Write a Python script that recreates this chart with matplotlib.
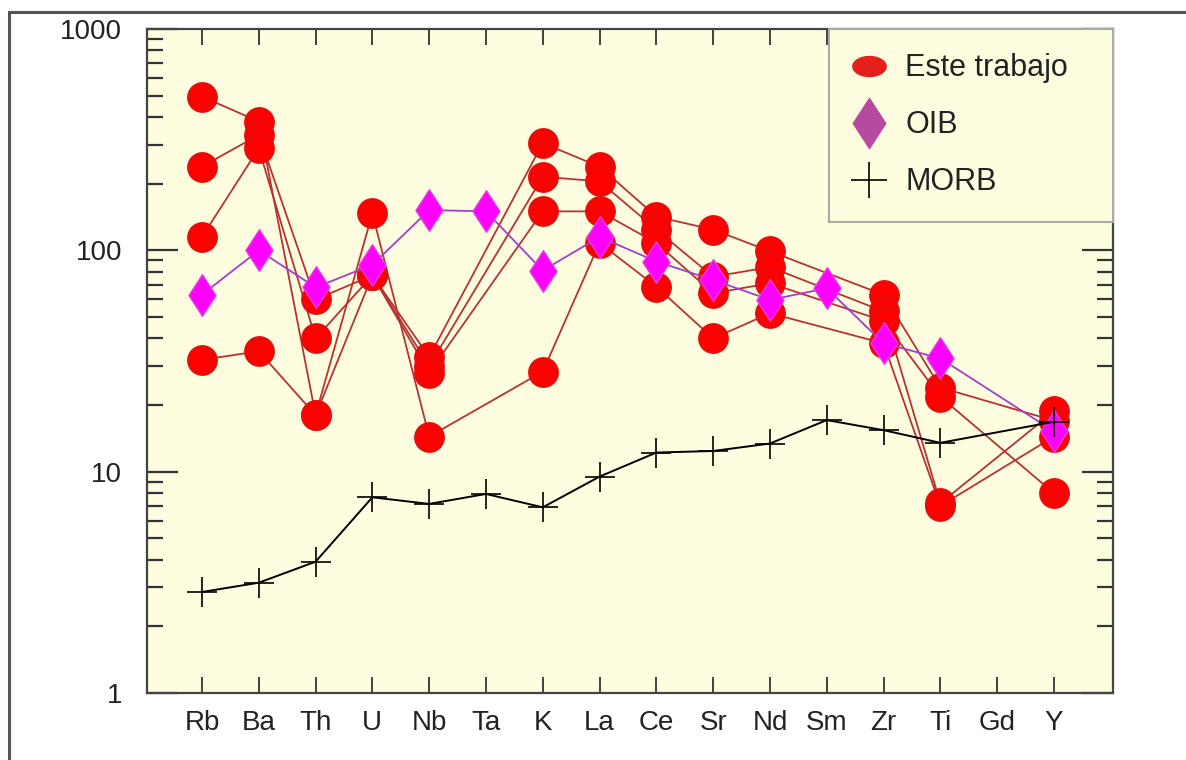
import numpy as np
import matplotlib
matplotlib.use("Agg")
import matplotlib.pyplot as plt
from matplotlib.path import Path
from matplotlib.lines import Line2D
from matplotlib.patches import Rectangle
from matplotlib.ticker import FixedLocator, NullFormatter

plt.rcParams['font.family'] = ['Liberation Sans', 'DejaVu Sans']

nan = np.nan
elementos = ['Rb', 'Ba', 'Th', 'U', 'Nb', 'Ta', 'K', 'La', 'Ce', 'Sr',
             'Nd', 'Sm', 'Zr', 'Ti', 'Gd', 'Y']

# muestras de este trabajo (normalizadas)
muestra1 = [495, 382, 18, 77, 33, nan, 305, 239, 142, 124, 99, nan, 63, 24, nan, 17]
muestra2 = [239, 332, 60, 77, 30, nan, 215, 205, 124, 76, 84, nan, 53, 7.2, nan, 18.7]
muestra3 = [115, 289, 40, 77, 28, nan, 150, 150, 108, 64, 71, nan, 48, 21.8, nan, 8.0]
muestra4 = [32, 35, 18, 147, 14.4, nan, 28.3, 108, 68.5, 40, 52, nan, 38, 7.0, nan, 14.4]
muestras = [muestra1, muestra2, muestra3, muestra4]

oib = [63, 100, 68, 86, 152, 150, 81, 115, 89, 73.5, 59.7, 67.4, 38, 32.5, nan, 15.2]
morb = [2.86, 3.15, 3.92, 7.66, 7.15, 7.93, 6.9, 9.5, 12.2, 12.4, 13.4, 17.1, 15.4, 13.5, nan, 16.8]

y_ticks = [1, 10, 100, 1000]
y_labels = ['1', '10', '100', '1000']

x = np.arange(len(elementos))

def sin_huecos(vals):
    v = np.array(vals, dtype=float)
    m = ~np.isnan(v)
    return x[m], v[m]

diamante = Path([(0, 1), (0.65, 0), (0, -1), (-0.65, 0), (0, 1)],
                [Path.MOVETO, Path.LINETO, Path.LINETO, Path.LINETO, Path.CLOSEPOLY])
t = np.linspace(0, 2 * np.pi, 40)
elipse = Path(np.column_stack([np.cos(t), 0.6 * np.sin(t)]))

fig = plt.figure(figsize=(11.86, 7.6), dpi=100)
ax = fig.add_axes([147 / 1186, 1 - 693 / 760, 966 / 1186, 664 / 760])
ax.set_facecolor('#fffde0')

# lineas rojas primero, luego los circulos
for s in muestras:
    xs, ys = sin_huecos(s)
    ax.plot(xs, ys, color='#b83232', lw=1.3, zorder=2)
for s in muestras:
    xs, ys = sin_huecos(s)
    ax.plot(xs, ys, ls='none', marker='o', ms=21, mfc='#ff0000', mec='#e01010',
            mew=1.2, zorder=3)

xs, ys = sin_huecos(oib)
ax.plot(xs, ys, color='#a040c8', lw=1.3, marker=diamante, ms=30, mfc='#ff00ff',
        mec='#e040e0', mew=1.0, zorder=4)

xs, ys = sin_huecos(morb)
ax.plot(xs, ys, color='black', lw=1.4, marker='+', ms=21, mew=1.2, zorder=5)

ax.set_yscale('log')
ax.set_ylim(1, 1000)
ax.set_xlim(-0.968, 16.04)

ax.yaxis.set_major_locator(FixedLocator(y_ticks))
ax.set_yticklabels(y_labels)
ax.yaxis.set_minor_locator(FixedLocator([m * 10 ** e for e in range(3) for m in range(2, 10)]))
ax.yaxis.set_minor_formatter(NullFormatter())
ax.set_xticks(x)
ax.set_xticklabels(elementos)

ax.tick_params(axis='y', which='major', direction='in', length=22, width=1.6,
               left=True, right=True, pad=18, labelsize=20, colors='#333333',
               labelcolor='#222222')
ax.tick_params(axis='y', which='minor', direction='in', length=11.5, width=1.6,
               left=True, right=True, colors='#333333')
ax.tick_params(axis='x', which='major', direction='in', length=11.5, width=1.3,
               top=True, bottom=True, pad=12, labelsize=20, colors='#333333',
               labelcolor='#222222')
ax.tick_params(axis='x', which='minor', top=False, bottom=False)
for sp in ax.spines.values():
    sp.set_color('#444444')
    sp.set_linewidth(1.6)

handles = [
    Line2D([], [], ls='none', marker=elipse, ms=24, mfc='#e3201c', mec='#e3201c'),
    Line2D([], [], ls='none', marker=diamante, ms=36, mfc='#b64aa0', mec='#b64aa0'),
    Line2D([], [], ls='none', marker='+', ms=26, mew=1.2, color='black'),
]
leg = ax.legend(handles, ['Este trabajo', 'OIB', 'MORB'], loc='upper left',
                bbox_to_anchor=(0.706, 0, 0.294, 1.0), mode='expand',
                borderaxespad=0, fontsize=22, handlelength=1.0, handletextpad=0.7,
                borderpad=0.8, labelspacing=0.88, fancybox=False, framealpha=1,
                facecolor='#fffde0', edgecolor='#aaaaaa')
leg.get_frame().set_linewidth(1.5)
for txt in leg.get_texts():
    txt.set_color('#222222')
leg.set_zorder(6)

# marco exterior de la figura
fig.add_artist(Rectangle((9 / 1186, -0.1), 1.2, 1.1 - 12 / 760, transform=fig.transFigure,
                         fill=False, ec='#555555', lw=2.2))

fig.savefig('out.png', dpi=100)
